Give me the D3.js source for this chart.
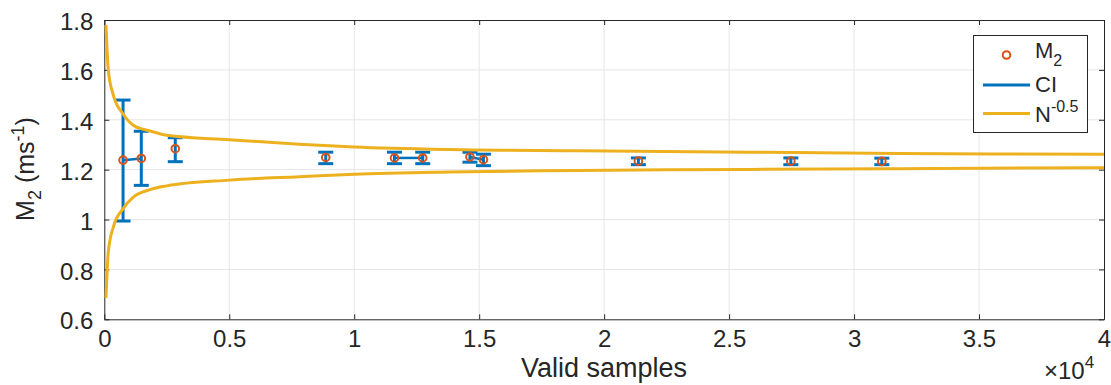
<!DOCTYPE html>
<html><head><meta charset="utf-8">
<script src="https://cdn.jsdelivr.net/npm/d3@7"></script>
<style>body{margin:0;background:#fff;} svg{display:block;font-family:"Liberation Sans",Arial,sans-serif;}</style>
</head><body><svg id="c" width="1111" height="385"></svg>
<script>
// ---- data ----
const samples = [750, 1480, 2840, 8860, 11610, 12740, 14630, 15170, 21370, 27470, 31110];
const m2      = [1.238, 1.245, 1.284, 1.249, 1.247, 1.247, 1.251, 1.240, 1.234, 1.234, 1.233];
const ciLow   = [0.994, 1.137, 1.232, 1.224, 1.224, 1.224, 1.230, 1.216, 1.220, 1.220, 1.220];
const ciHigh  = [1.479, 1.354, 1.328, 1.270, 1.270, 1.270, 1.270, 1.262, 1.247, 1.247, 1.246];
const linkedPairs = [[0, 1], [4, 5], [6, 7]];
const upperN = [68, 160, 360, 740, 1160, 1830, 2500, 5000, 7800, 10000, 13800, 19000, 25800, 31800, 40000];
const upperV = [1.780, 1.599, 1.499, 1.425, 1.378, 1.355, 1.338, 1.320, 1.302, 1.291, 1.281, 1.276, 1.270, 1.265, 1.262];
const lowerN = [68, 160, 360, 740, 1160, 1830, 2500, 5000, 7800, 10000, 13800, 19000, 25800, 31800, 40000];
const lowerV = [0.686, 0.870, 0.970, 1.042, 1.090, 1.120, 1.135, 1.158, 1.172, 1.182, 1.191, 1.197, 1.201, 1.204, 1.208];
const xTicks = [0, 5000, 10000, 15000, 20000, 25000, 30000, 35000, 40000];
const yTicks = [0.6, 0.8, 1.0, 1.2, 1.4, 1.6, 1.8];

// ---- layout ----
const L = 104.3, R = 1104, T = 20, B = 319.3;
const svg = d3.select("#c");
const x = d3.scaleLinear().domain([0, 40000]).range([L, R]);
const y = d3.scaleLinear().domain([0.6, 1.8]).range([B, T]);
const blue = "#0072BD", orange = "#D95319", yellow = "#EDB120", axc = "#262626";
const FF = "Liberation Sans, Arial, sans-serif";

// grid
svg.append("g").selectAll("line").data(xTicks.slice(1, -1)).join("line")
  .attr("x1", d => x(d)).attr("x2", d => x(d)).attr("y1", T).attr("y2", B)
  .attr("stroke", "#e6e6e6").attr("stroke-width", 1);
svg.append("g").selectAll("line").data(yTicks.slice(1, -1)).join("line")
  .attr("y1", d => y(d)).attr("y2", d => y(d)).attr("x1", L).attr("x2", R)
  .attr("stroke", "#e6e6e6").attr("stroke-width", 1);

// axes (ticks inside, box)
const fmtX = d => d3.format("")(d / 10000);
const ax = svg.append("g").attr("transform", `translate(0,${B})`)
  .call(d3.axisBottom(x).tickValues(xTicks).tickFormat(fmtX).tickSizeInner(-5).tickSizeOuter(0));
const axT = svg.append("g").attr("transform", `translate(0,${T})`)
  .call(d3.axisTop(x).tickValues(xTicks).tickFormat("").tickSizeInner(-5).tickSizeOuter(0));
const ay = svg.append("g").attr("transform", `translate(${L},0)`)
  .call(d3.axisLeft(y).tickValues(yTicks).tickFormat(d => d3.format("")(+d.toFixed(1))).tickSizeInner(-5).tickSizeOuter(0).tickPadding(11));
const ayR = svg.append("g").attr("transform", `translate(${R},0)`)
  .call(d3.axisRight(y).tickValues(yTicks).tickFormat("").tickSizeInner(-5).tickSizeOuter(0));
[ax, axT, ay, ayR].forEach(g => {
  g.select(".domain").attr("stroke", axc).attr("stroke-width", 1);
  g.selectAll(".tick line").attr("stroke", axc);
  g.selectAll("text").attr("fill", axc).style("font-size", "24px").style("font-family", FF);
});
ax.selectAll("text").attr("y", 27.5).attr("dy", 0);
ay.selectAll("text").attr("dy", "0.4em");

// error bars
const eb = svg.append("g");
const cw = 7.5;
linkedPairs.forEach(([a, b]) => {
  eb.append("line").attr("x1", x(samples[a])).attr("x2", x(samples[b]))
    .attr("y1", y(m2[a])).attr("y2", y(m2[b])).attr("stroke", blue).attr("stroke-width", 2.5);
});
samples.forEach((s, i) => {
  const g = eb.append("g").attr("stroke", blue).attr("stroke-width", 3);
  g.append("line").attr("x1", x(s)).attr("x2", x(s)).attr("y1", y(ciLow[i])).attr("y2", y(ciHigh[i]));
  g.append("line").attr("x1", x(s) - cw).attr("x2", x(s) + cw).attr("y1", y(ciLow[i])).attr("y2", y(ciLow[i]));
  g.append("line").attr("x1", x(s) - cw).attr("x2", x(s) + cw).attr("y1", y(ciHigh[i])).attr("y2", y(ciHigh[i]));
});

// markers
svg.append("g").selectAll("circle").data(samples).join("circle")
  .attr("cx", d => x(d)).attr("cy", (d, i) => y(m2[i])).attr("r", 3.8)
  .attr("fill", "none").attr("stroke", orange).attr("stroke-width", 2);

// N^-0.5 curves
const line = d3.line().x(d => x(d[0])).y(d => y(d[1])).curve(d3.curveMonotoneX);
svg.append("path").attr("d", line(upperN.map((n, i) => [n, upperV[i]])))
  .attr("fill", "none").attr("stroke", yellow).attr("stroke-width", 3);
svg.append("path").attr("d", line(lowerN.map((n, i) => [n, lowerV[i]])))
  .attr("fill", "none").attr("stroke", yellow).attr("stroke-width", 3);

// axis labels
svg.append("text").attr("x", 604).attr("y", 377).attr("text-anchor", "middle")
  .attr("fill", axc).style("font-size", "27px").text("Valid samples");
const ex = svg.append("text").attr("x", 1044).attr("y", 379).attr("fill", axc).style("font-size", "24px");
ex.append("tspan").text("\u00d710");
ex.append("tspan").attr("dy", -11).style("font-size", "17px").text("4");

const yl = svg.append("text").attr("transform", "translate(34,169) rotate(-90)")
  .attr("text-anchor", "middle").attr("fill", axc).style("font-size", "25px");
yl.append("tspan").text("M");
yl.append("tspan").attr("dy", 7).style("font-size", "18px").text("2");
yl.append("tspan").attr("dy", -7).text(" (ms");
yl.append("tspan").attr("dy", -10).style("font-size", "18px").text("-1");
yl.append("tspan").attr("dy", 10).text(")");

// legend
const lg = svg.append("g");
lg.append("rect").attr("x", 973.5).attr("y", 35.5).attr("width", 114).attr("height", 97)
  .attr("fill", "#fff").attr("stroke", axc).attr("stroke-width", 1);
lg.append("circle").attr("cx", 1006.5).attr("cy", 55).attr("r", 3.8)
  .attr("fill", "none").attr("stroke", orange).attr("stroke-width", 2);
lg.append("line").attr("x1", 983).attr("x2", 1030).attr("y1", 85).attr("y2", 85).attr("stroke", blue).attr("stroke-width", 3);
lg.append("line").attr("x1", 983).attr("x2", 1030).attr("y1", 113.5).attr("y2", 113.5).attr("stroke", yellow).attr("stroke-width", 3);
const t1 = lg.append("text").attr("x", 1035).attr("y", 58).attr("fill", axc).style("font-size", "22px");
t1.append("tspan").text("M");
t1.append("tspan").attr("dy", 8).style("font-size", "16px").text("2");
lg.append("text").attr("x", 1035).attr("y", 92).attr("fill", axc).style("font-size", "22px").text("CI");
const t3 = lg.append("text").attr("x", 1035).attr("y", 122).attr("fill", axc).style("font-size", "22px");
t3.append("tspan").text("N");
t3.append("tspan").attr("dy", -10).style("font-size", "16px").text("-0.5");
</script></body></html>
